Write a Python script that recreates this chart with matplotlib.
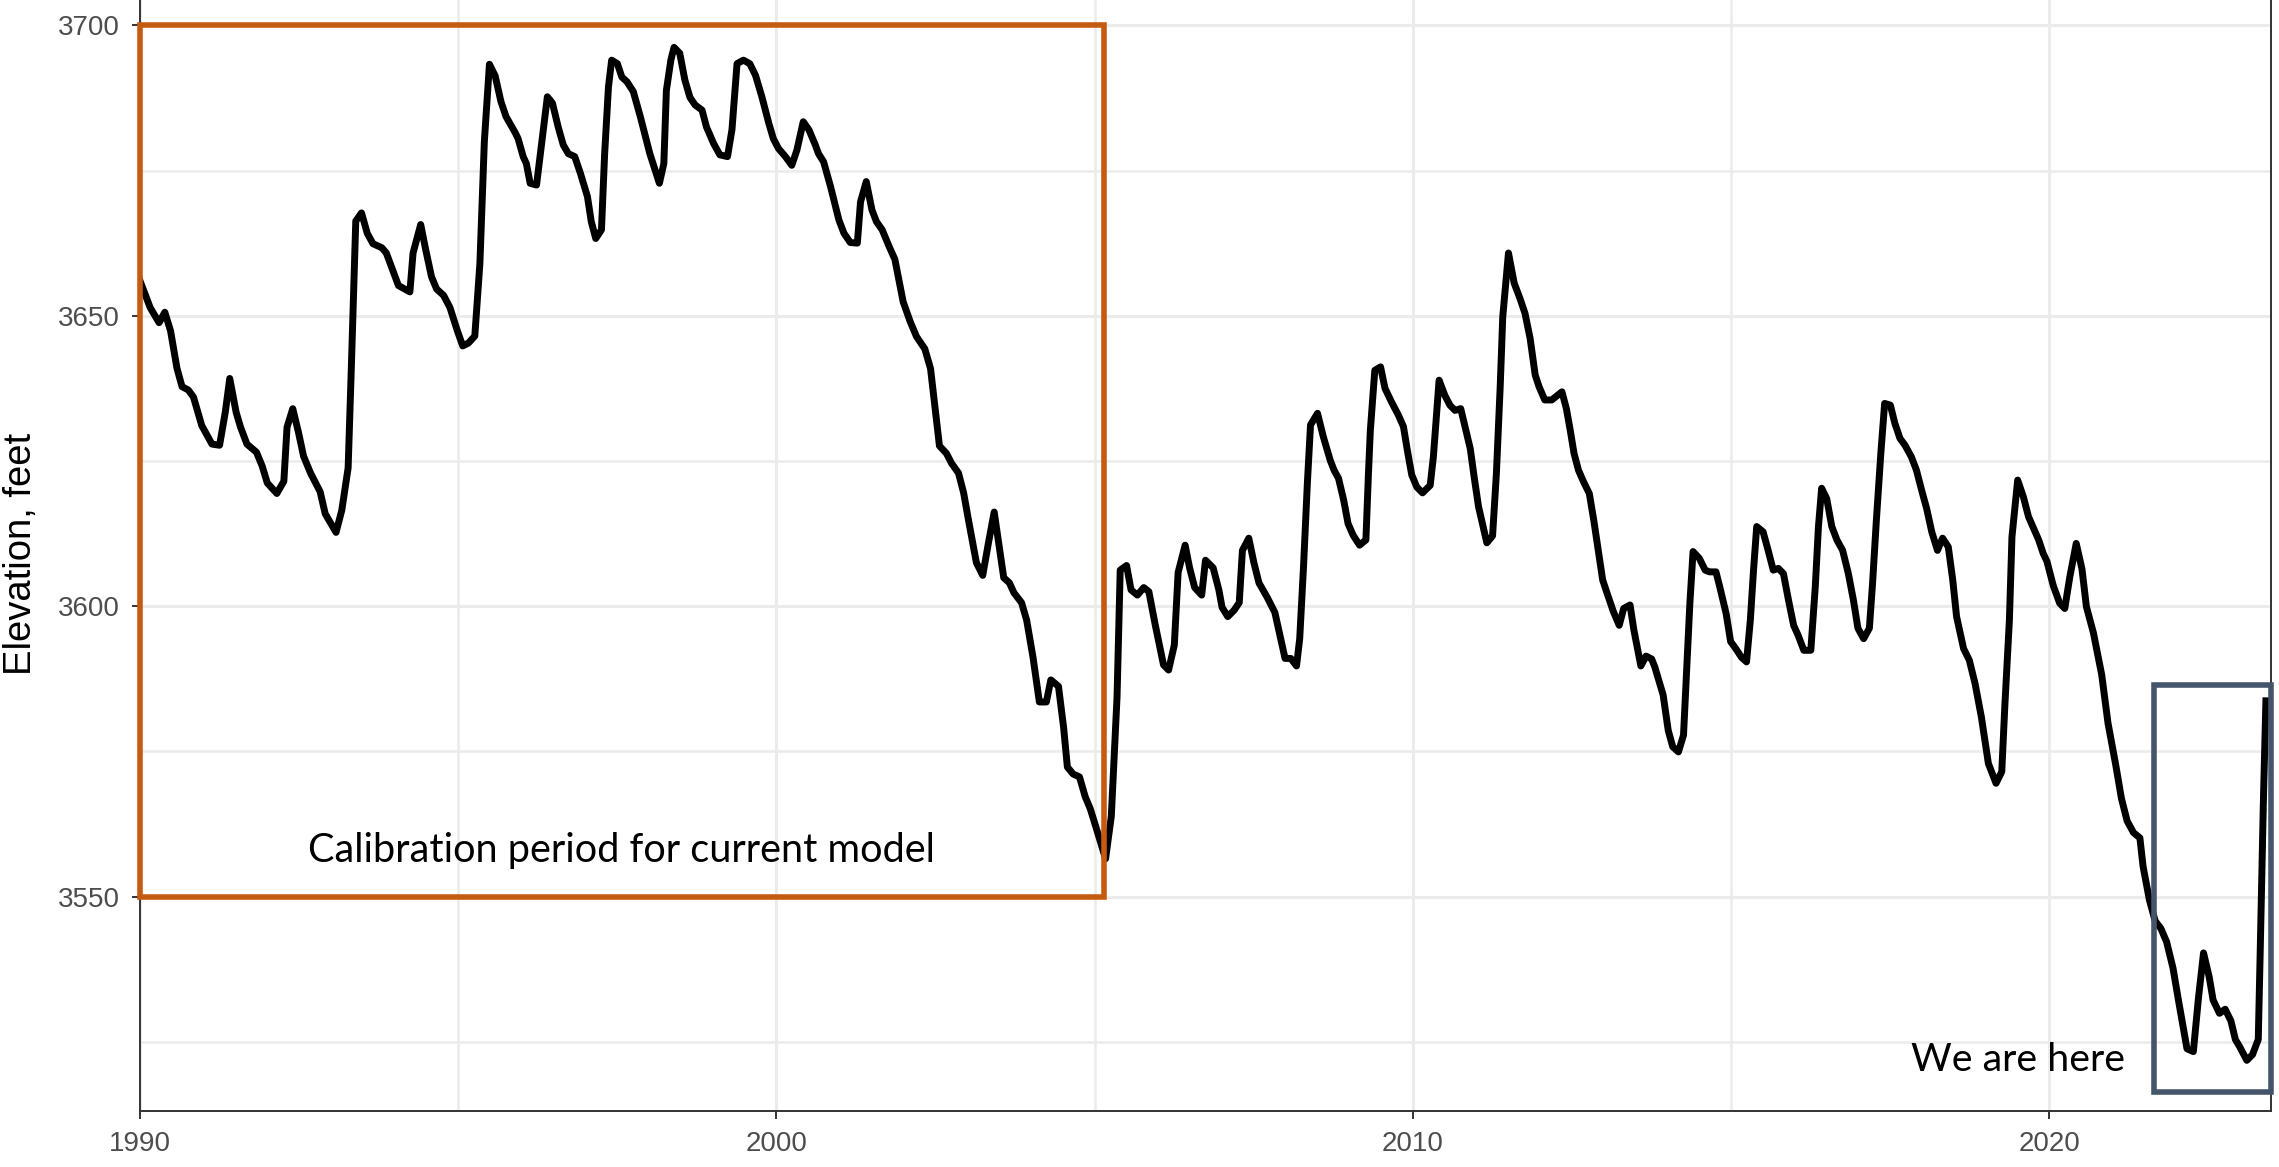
import matplotlib
matplotlib.use("Agg")
import matplotlib.pyplot as plt
import matplotlib.patches as patches
from matplotlib.ticker import MultipleLocator

# Lake level (decimal year, feet)
years = [
    1990.00, 1990.16, 1990.30, 1990.39, 1990.48, 1990.58, 1990.66, 1990.76, 1990.84, 1990.97,
    1991.13, 1991.25, 1991.34, 1991.41, 1991.51, 1991.58, 1991.68, 1991.83, 1991.92, 1992.00,
    1992.15, 1992.26, 1992.31, 1992.40, 1992.49, 1992.57, 1992.68, 1992.83, 1992.91, 1993.08,
    1993.17, 1993.27, 1993.32, 1993.39, 1993.48, 1993.57, 1993.66, 1993.80, 1993.87, 1994.06,
    1994.24, 1994.29, 1994.41, 1994.49, 1994.58, 1994.66, 1994.77, 1994.87, 1994.98, 1995.07,
    1995.16, 1995.26, 1995.34, 1995.41, 1995.49, 1995.58, 1995.67, 1995.75, 1995.90,
    1995.94, 1996.02, 1996.07, 1996.13, 1996.23, 1996.31, 1996.40, 1996.48, 1996.57, 1996.65,
    1996.73, 1996.83, 1996.92, 1997.03, 1997.09, 1997.16, 1997.25, 1997.30, 1997.36, 1997.41,
    1997.50, 1997.57, 1997.65, 1997.75, 1997.86, 1998.01, 1998.16, 1998.23, 1998.27, 1998.34,
    1998.39, 1998.48, 1998.56, 1998.64, 1998.72, 1998.83, 1998.90, 1999.01, 1999.11, 1999.23,
    1999.30, 1999.38, 1999.48, 1999.58, 1999.67, 1999.77, 1999.88, 1999.95, 2000.03, 2000.14,
    2000.24, 2000.32, 2000.42, 2000.51, 2000.61, 2000.66, 2000.74, 2000.85, 2000.98, 2001.06,
    2001.16, 2001.27, 2001.32, 2001.41, 2001.50, 2001.57, 2001.66, 2001.77,
    2001.86, 2001.99, 2002.10, 2002.20, 2002.33, 2002.42, 2002.56, 2002.67, 2002.75, 2002.86,
    2002.94, 2003.01, 2003.14, 2003.24, 2003.33, 2003.42, 2003.49, 2003.57, 2003.66, 2003.73,
    2003.85, 2003.93, 2004.03, 2004.13, 2004.24, 2004.31, 2004.43, 2004.51, 2004.57, 2004.66,
    2004.76, 2004.85, 2004.93, 2005.04, 2005.17, 2005.26, 2005.35, 2005.40, 2005.50, 2005.57,
    2005.67, 2005.77, 2005.85, 2005.95, 2006.08, 2006.16, 2006.25, 2006.31, 2006.42, 2006.49,
    2006.57, 2006.68, 2006.74, 2006.86, 2006.95, 2007.00, 2007.09, 2007.19, 2007.27, 2007.32,
    2007.42, 2007.50, 2007.58, 2007.71, 2007.83, 2007.99, 2008.08, 2008.17,
    2008.22, 2008.28, 2008.34, 2008.39, 2008.50, 2008.59, 2008.70, 2008.76, 2008.83, 2008.91,
    2008.98, 2009.06, 2009.16, 2009.26, 2009.30, 2009.33, 2009.40, 2009.49, 2009.56, 2009.66,
    2009.77, 2009.85, 2009.91, 2009.98, 2010.06, 2010.15, 2010.27, 2010.32, 2010.37, 2010.41,
    2010.50, 2010.58, 2010.66, 2010.75, 2010.80, 2010.90, 2010.96, 2011.03, 2011.16, 2011.25,
    2011.31, 2011.37, 2011.41, 2011.50, 2011.59, 2011.68, 2011.76, 2011.84, 2011.92, 2011.98,
    2012.07, 2012.18, 2012.34, 2012.41, 2012.47, 2012.53, 2012.60, 2012.68, 2012.77, 2012.84,
    2012.91, 2012.98, 2013.05, 2013.15, 2013.24, 2013.31, 2013.41, 2013.47, 2013.58, 2013.66,
    2013.75, 2013.80, 2013.93, 2014.01, 2014.08, 2014.17, 2014.25, 2014.30, 2014.35, 2014.40,
    2014.50, 2014.59, 2014.66, 2014.76, 2014.82, 2014.92, 2014.99, 2015.07, 2015.16, 2015.24,
    2015.30, 2015.35, 2015.40, 2015.50, 2015.58, 2015.66, 2015.74, 2015.82, 2015.90, 2015.98,
    2016.05, 2016.14, 2016.25, 2016.32, 2016.37, 2016.42, 2016.50, 2016.58, 2016.66, 2016.75,
    2016.84, 2016.92, 2016.99, 2017.08, 2017.17, 2017.22, 2017.28, 2017.35, 2017.41, 2017.50,
    2017.57, 2017.65, 2017.73, 2017.83, 2017.91, 2017.99, 2018.07, 2018.15, 2018.24, 2018.32,
    2018.41, 2018.48, 2018.54, 2018.65, 2018.74, 2018.83, 2018.93, 2019.04, 2019.16, 2019.25,
    2019.30, 2019.37, 2019.41, 2019.50, 2019.59, 2019.67, 2019.75, 2019.83, 2019.90,
    2019.96, 2020.06, 2020.16, 2020.24, 2020.32, 2020.42, 2020.51, 2020.58, 2020.69, 2020.82,
    2020.92, 2021.04, 2021.13, 2021.22, 2021.32, 2021.42, 2021.47, 2021.57, 2021.66, 2021.75,
    2021.84, 2021.94, 2022.03, 2022.16, 2022.26, 2022.34, 2022.42, 2022.51, 2022.57, 2022.67,
    2022.76, 2022.85, 2022.92, 2022.99, 2023.10, 2023.19, 2023.28, 2023.31, 2023.36, 2023.40,
]
elev_ft = [
    3656.0, 3651.4, 3648.8, 3650.6, 3647.4, 3641.0, 3637.8, 3637.2, 3636.0, 3631.1,
    3627.9, 3627.7, 3633.4, 3639.2, 3633.4, 3630.8, 3627.9, 3626.5, 3624.1, 3621.2,
    3619.4, 3621.5, 3630.8, 3634.0, 3629.9, 3625.8, 3622.9, 3619.7, 3615.9, 3612.7,
    3616.5, 3623.8, 3641.0, 3666.3, 3667.7, 3664.2, 3662.4, 3661.7, 3660.8, 3655.2,
    3654.1, 3660.8, 3665.7, 3661.3, 3656.7, 3654.6, 3653.5, 3651.4, 3647.6, 3644.8,
    3645.3, 3646.5, 3659.0, 3680.0, 3693.3, 3691.3, 3686.9, 3684.3, 3681.4,
    3680.5, 3677.4, 3676.2, 3672.8, 3672.5, 3679.7, 3687.7, 3686.6, 3682.5, 3679.4,
    3677.9, 3677.4, 3674.5, 3670.5, 3666.2, 3663.3, 3664.8, 3677.9, 3689.4, 3694.0,
    3693.4, 3691.1, 3690.3, 3688.6, 3684.3, 3677.9, 3672.8, 3676.2, 3688.8, 3694.0,
    3696.2, 3695.2, 3690.6, 3687.6, 3686.3, 3685.4, 3682.5, 3679.7, 3677.7, 3677.4,
    3682.0, 3693.4, 3694.0, 3693.4, 3691.4, 3687.7, 3683.1, 3680.5, 3678.8, 3677.4,
    3675.9, 3678.5, 3683.4, 3682.0, 3679.4, 3677.9, 3676.5, 3672.2, 3666.5, 3664.2,
    3662.6, 3662.5, 3669.6, 3673.1, 3668.2, 3666.2, 3664.8, 3661.9,
    3659.7, 3652.4, 3649.0, 3646.4, 3644.3, 3640.9, 3627.6, 3626.3, 3624.6, 3622.9,
    3619.5, 3615.2, 3607.5, 3605.3, 3610.9, 3616.2, 3610.9, 3604.9, 3604.0, 3602.3,
    3600.6, 3597.6, 3591.2, 3583.5, 3583.5, 3587.3, 3586.2, 3579.2, 3572.3, 3571.1,
    3570.6, 3567.2, 3565.1, 3561.2, 3556.5, 3563.8, 3584.3, 3606.2, 3607.0, 3602.8,
    3601.9, 3603.2, 3602.5, 3596.8, 3589.9, 3589.0, 3593.3, 3605.8, 3610.5, 3606.6,
    3603.2, 3601.9, 3607.9, 3606.6, 3602.8, 3599.8, 3598.2, 3599.3, 3600.6, 3609.6,
    3611.7, 3607.5, 3604.0, 3601.5, 3598.9, 3591.0, 3591.0, 3589.7,
    3594.4, 3606.8, 3621.1, 3631.2, 3633.2, 3629.2, 3625.1, 3623.4, 3622.0, 3618.3,
    3614.2, 3612.2, 3610.5, 3611.4, 3622.8, 3630.3, 3640.6, 3641.2, 3637.5, 3635.2,
    3632.9, 3630.9, 3626.9, 3622.6, 3620.5, 3619.5, 3620.8, 3625.7, 3632.9, 3638.9,
    3636.3, 3634.6, 3633.7, 3634.0, 3631.7, 3627.1, 3622.3, 3617.1, 3610.9, 3612.1,
    3622.8, 3637.8, 3649.8, 3660.8, 3655.6, 3653.0, 3650.4, 3646.1, 3639.8, 3637.8,
    3635.5, 3635.5, 3636.9, 3634.0, 3630.3, 3626.3, 3623.4, 3621.4, 3619.4, 3614.8,
    3609.6, 3604.5, 3602.2, 3599.0, 3596.7, 3599.6, 3600.2, 3595.9, 3589.7, 3591.4,
    3590.9, 3589.5, 3584.7, 3578.6, 3575.8, 3574.9, 3577.8, 3589.0, 3600.5, 3609.4,
    3608.2, 3606.2, 3605.9, 3605.9, 3603.3, 3598.7, 3593.9, 3592.7, 3591.2, 3590.4,
    3597.6, 3606.2, 3613.7, 3612.8, 3609.6, 3606.2, 3606.5, 3605.6, 3601.0, 3596.7,
    3595.0, 3592.4, 3592.4, 3603.3, 3613.7, 3620.3, 3618.5, 3613.7, 3611.4, 3609.6,
    3605.6, 3601.0, 3596.2, 3594.4, 3596.2, 3603.9, 3614.8, 3626.3, 3634.9, 3634.6,
    3631.5, 3628.9, 3627.7, 3625.7, 3623.4, 3620.0, 3616.8, 3612.8, 3609.6, 3611.7,
    3610.2, 3604.5, 3598.2, 3592.7, 3590.7, 3586.7, 3580.9, 3572.9, 3569.5, 3571.5,
    3583.2, 3597.6, 3611.9, 3621.7, 3618.8, 3615.4, 3613.4, 3611.4, 3609.1,
    3607.7, 3603.5, 3600.5, 3599.6, 3605.1, 3610.8, 3606.4, 3599.9, 3595.4, 3588.2,
    3579.8, 3572.7, 3566.9, 3563.0, 3561.0, 3560.1, 3555.2, 3549.4, 3545.8, 3544.5,
    3542.2, 3537.7, 3531.9, 3523.8, 3523.3, 3532.5, 3540.3, 3536.1, 3532.2, 3529.9,
    3530.6, 3528.6, 3525.4, 3524.1, 3521.8, 3522.8, 3525.4, 3540.3, 3566.2, 3583.7,
]

# annotation boxes (years, feet)
calib_years = [1990.0, 2005.15]
calib_elev = [3550, 3700]
now_years = [2021.64, 2023.48]
now_elev = [3516.3, 3586.5]

x_end = 2023.48
y_ticks = [3550, 3600, 3650, 3700]
x_ticks = [1990, 2000, 2010, 2020]

tick_font = "Liberation Sans"
note_font = "Lato"

fig = plt.figure(figsize=(22.79, 11.67), dpi=100)
ax = fig.add_axes([0.06143, 0.04799, 0.93506, 0.9548])

ax.plot(years, elev_ft, color="black", lw=5, solid_joinstyle="round", zorder=3)

# ggplot-like 5% expansion on y, none on x
rng = max(elev_ft) - min(elev_ft)
ax.set_ylim(min(elev_ft) - 0.05 * rng, max(elev_ft) + 0.05 * rng)
ax.set_xlim(years[0], x_end)

ax.set_xticks(x_ticks)
ax.set_yticks(y_ticks)
ax.xaxis.set_minor_locator(MultipleLocator(5))
ax.yaxis.set_minor_locator(MultipleLocator(25))
ax.tick_params(which="minor", length=0)
ax.tick_params(which="major", length=5.5, width=1.4, color="#333333",
               labelcolor="#4D4D4D", labelsize=20, pad=9)
for lab in ax.get_xticklabels() + ax.get_yticklabels():
    lab.set_family(tick_font)

ax.grid(which="major", color="#EBEBEB", lw=2.2)
ax.grid(which="minor", color="#EBEBEB", lw=1.8)
ax.set_axisbelow(True)
for sp in ax.spines.values():
    sp.set_color("#333333")
    sp.set_linewidth(1.4)

fig.text(0.0094, 0.525, "Elevation, feet", rotation=90, ha="center", va="center",
         fontsize=27.5, family=tick_font, color="black")

box1 = patches.Rectangle((calib_years[0], calib_elev[0]), calib_years[1] - calib_years[0],
                         calib_elev[1] - calib_elev[0], fill=False, ec="#C55A11", lw=4,
                         zorder=4, clip_on=False)
ax.add_patch(box1)
box2 = patches.Rectangle((now_years[0], now_elev[0]), now_years[1] - now_years[0],
                         now_elev[1] - now_elev[0], fill=False, ec="#44546A", lw=4,
                         zorder=4, clip_on=False)
ax.add_patch(box2)

ax.text(1997.57, 3556.0, "Calibration period for current model", ha="center", va="baseline",
        fontsize=28.6, family=note_font, color="black", zorder=5)
ax.text(2019.51, 3519.9, "We are here", ha="center", va="baseline",
        fontsize=28.4, family=note_font, color="black", zorder=5)

fig.savefig("out.png", dpi=100)
